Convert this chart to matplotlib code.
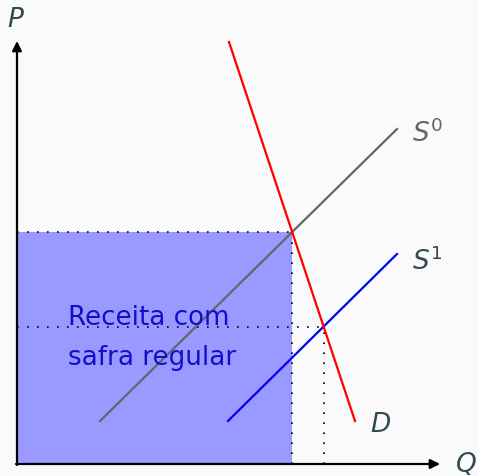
import numpy as np
import matplotlib
matplotlib.use("Agg")
import matplotlib.pyplot as plt

# Data (economic units)
demand_q = [10.6, 16.9]
demand_p = [21.1, 2.15]
supply0_q = [4.15, 19.0]
supply0_p = [2.15, 16.75]
supply1_q = [10.55, 19.0]
supply1_p = [2.15, 10.5]
revenue_label = ["Receita com", "safra regular"]

def line_coef(q, p):
    m = (p[1] - p[0]) / (q[1] - q[0])
    return m, p[0] - m * q[0]

def intersect(a, b):
    m1, c1 = a
    m2, c2 = b
    q = (c2 - c1) / (m1 - m2)
    return q, m1 * q + c1

D = line_coef(demand_q, demand_p)
S0 = line_coef(supply0_q, supply0_p)
S1 = line_coef(supply1_q, supply1_p)
q0, p0 = intersect(D, S0)
q1, p1 = intersect(D, S1)

plt.rcParams['mathtext.fontset'] = 'dejavusans'
bg = '#fafafa'
txt = '#2f4a52'
fig = plt.figure(figsize=(4.78, 4.77), dpi=100, facecolor=bg)
ax = fig.add_axes([0, 0, 1, 1])
ax.set_facecolor(bg)
ax.set_xlim(-0.85, 23.05)
ax.set_ylim(-0.6, 23.25)
ax.axis('off')

# revenue rectangle
ax.fill_between([0, q0], 0, p0, color='#9999ff', lw=0, zorder=1)

# dotted guides
dot = dict(color='black', lw=1.2, ls=(0, (1, 5)), zorder=2)
ax.plot([0, q0], [p0, p0], **dot)
ax.plot([q0, q0], [0, p0], **dot)
ax.plot([0, q1], [p1, p1], **dot)
ax.plot([q1, q1], [0, p1], **dot)

# curves
ax.plot(supply0_q, supply0_p, color='#666666', lw=1.6, zorder=3)
ax.plot(supply1_q, supply1_p, color='blue', lw=1.6, zorder=3)
ax.plot(demand_q, demand_p, color='red', lw=1.6, zorder=4)

# axes arrows
arr = dict(arrowstyle='-|>', color='black', lw=1.6, mutation_scale=14, shrinkA=0, shrinkB=0)
ax.annotate('', xy=(21.15, 0), xytext=(-0.05, 0), arrowprops=arr, zorder=5)
ax.annotate('', xy=(0, 21.15), xytext=(0, -0.05), arrowprops=arr, zorder=5)

# labels
fs = 19
ax.text(-0.5, 21.9, '$P$', fontsize=fs, color=txt, ha='left', va='baseline')
ax.text(21.9, -0.35, '$Q$', fontsize=fs, color=txt, ha='left', va='baseline')
ax.text(17.65, 1.65, '$D$', fontsize=fs, color=txt, ha='left', va='baseline')
ax.text(19.75, 16.15, '$S^0$', fontsize=fs, color='#666666', ha='left', va='baseline')
ax.text(19.75, 9.75, '$S^1$', fontsize=fs, color=txt, ha='left', va='baseline')
ax.text(2.55, 7.0, revenue_label[0], fontsize=18.8, color='#1010cc', ha='left', va='baseline', zorder=6)
ax.text(2.55, 5.0, revenue_label[1], fontsize=18.8, color='#1010cc', ha='left', va='baseline', zorder=6)

fig.savefig('out.png', dpi=100, facecolor=bg)
